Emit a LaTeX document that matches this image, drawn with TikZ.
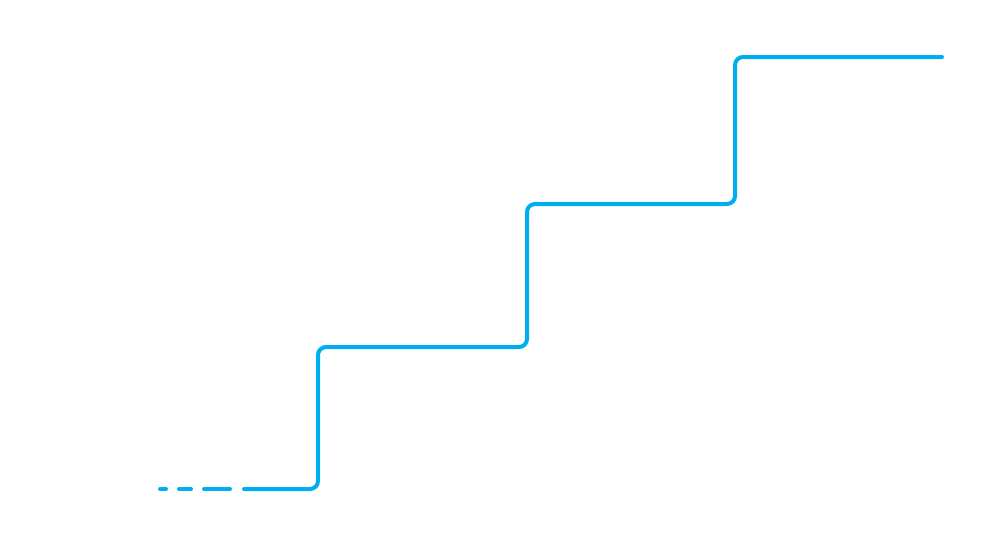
\documentclass[tikz,border=0pt]{standalone}
\usepackage{fontspec}
\setmainfont{Liberation Sans}
\definecolor{stairblue}{RGB}{0,174,239}
\begin{document}
\begin{tikzpicture}[x=1pt,y=-1pt,
  stair/.style={draw=stairblue,line width=4pt,line cap=round,rounded corners=8pt},
  lbl/.style={text=white,inner sep=0pt,anchor=base west}]
\useasboundingbox[fill=white] (0,0) rectangle (1000,550);
% staircase points
\coordinate (s0) at (244,489);
\coordinate (c1) at (318,489);
\coordinate (c2) at (318,347);
\coordinate (c3) at (527,347);
\coordinate (c4) at (527,204);
\coordinate (c5) at (735,204);
\coordinate (c6) at (735,57);
\coordinate (e)  at (942,57);
\draw[stair] (s0) -- (c1) -- (c2) -- (c3) -- (c4) -- (c5) -- (c6) -- (e);
% dashed lead-in
\coordinate (d1a) at (160,489); \coordinate (d1b) at (166,489);
\coordinate (d2a) at (179,489); \coordinate (d2b) at (191,489);
\coordinate (d3a) at (204,489); \coordinate (d3b) at (230,489);
\draw[stair] (d1a) -- (d1b);
\draw[stair] (d2a) -- (d2b);
\draw[stair] (d3a) -- (d3b);
% labels
\node[lbl,font=\fontsize{46}{46}\selectfont] (leads) at (165,420) {Leads};
\node[lbl,font=\fontsize{30}{30}\selectfont] (cust) at (313,308) {Customers};
\node[lbl,font=\fontsize{28}{28}\selectfont] (rev) at (545,173) {More Revenue};
\end{tikzpicture}
\end{document}
